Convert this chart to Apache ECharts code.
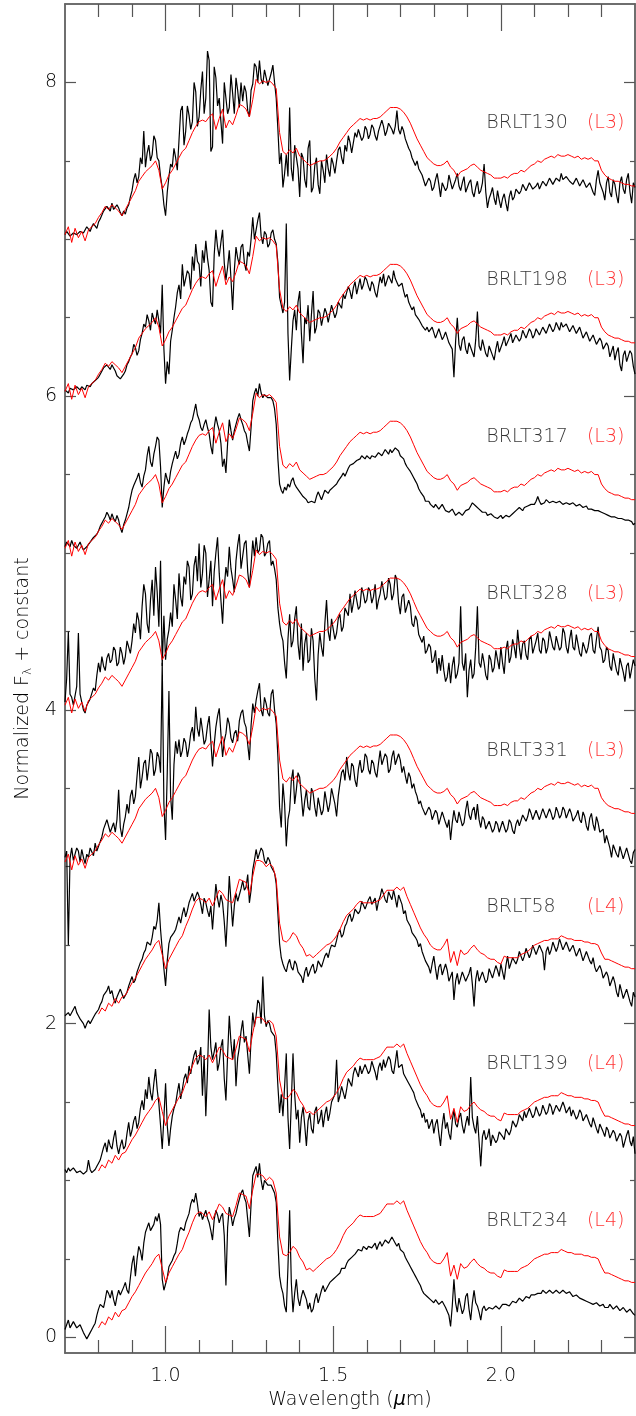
<!DOCTYPE html>
<html>
<head>
<meta charset="utf-8">
<script src="https://cdn.jsdelivr.net/npm/echarts@6/dist/echarts.min.js"></script>
<style>
  html, body { margin: 0; padding: 0; background: #fff; }
  #chart { width: 636px; height: 1416px; }
</style>
</head>
<body>
<div id="chart"></div>
<script>
// Wavelength sampling (micron): observed spectra every 0.005, standards every 0.01, from 0.70 to 2.40
const WAVE_START = 0.70;
const OBS_STEP = 0.005;
const STD_STEP = 0.01;

// Spectral standards (normalized flux), one per spectral type
const L3_TEMPLATE = [
  0.03,0.08,-0.02,0.07,0.01,0.05,-0.01,0.06,0.08,0.10,
  0.14,0.17,0.21,0.19,0.22,0.20,0.18,0.15,0.19,0.23,
  0.27,0.31,0.37,0.40,0.43,0.45,0.47,0.50,0.44,0.32,
  0.36,0.41,0.44,0.48,0.52,0.56,0.58,0.63,0.68,0.72,
  0.75,0.76,0.75,0.78,0.80,0.70,0.77,0.83,0.71,0.76,
  0.73,0.79,0.86,0.85,0.83,0.78,0.89,1.02,0.99,1.01,
  1.00,1.01,0.99,0.96,0.68,0.56,0.54,0.57,0.55,0.58,
  0.53,0.51,0.49,0.47,0.48,0.49,0.50,0.50,0.51,0.53,
  0.55,0.58,0.62,0.65,0.68,0.71,0.73,0.75,0.77,0.76,
  0.77,0.76,0.77,0.77,0.78,0.80,0.82,0.84,0.84,0.84,
  0.83,0.81,0.78,0.74,0.69,0.64,0.60,0.56,0.52,0.50,
  0.48,0.47,0.47,0.48,0.50,0.46,0.44,0.40,0.43,0.44,
  0.45,0.47,0.48,0.46,0.44,0.43,0.42,0.41,0.39,0.39,
  0.39,0.40,0.39,0.41,0.42,0.42,0.44,0.43,0.45,0.47,
  0.48,0.50,0.49,0.51,0.52,0.53,0.52,0.54,0.53,0.53,
  0.54,0.53,0.52,0.53,0.51,0.52,0.51,0.52,0.50,0.50,
  0.44,0.41,0.39,0.38,0.37,0.37,0.36,0.35,0.35,0.34,
  0.34
];
const L4_TEMPLATE = [
  null,null,null,null,null,null,null,null,null,null,
  0.06,0.10,0.08,0.13,0.11,0.16,0.13,0.17,0.18,0.22,
  0.26,0.29,0.33,0.37,0.41,0.44,0.47,0.51,0.53,0.44,
  0.35,0.41,0.45,0.49,0.53,0.56,0.62,0.67,0.73,0.78,
  0.80,0.79,0.77,0.80,0.75,0.80,0.85,0.83,0.79,0.78,
  0.77,0.84,0.92,0.91,0.90,0.82,0.94,1.04,1.04,1.03,
  1.00,1.02,1.00,0.92,0.64,0.53,0.52,0.54,0.58,0.56,
  0.51,0.48,0.43,0.44,0.42,0.44,0.46,0.48,0.50,0.51,
  0.53,0.56,0.60,0.65,0.69,0.71,0.73,0.76,0.78,0.77,
  0.77,0.77,0.77,0.78,0.79,0.82,0.85,0.85,0.85,0.87,
  0.85,0.87,0.81,0.76,0.71,0.66,0.61,0.57,0.54,0.50,
  0.48,0.47,0.47,0.50,0.54,0.39,0.46,0.37,0.47,0.44,
  0.45,0.48,0.50,0.47,0.45,0.44,0.42,0.41,0.41,0.39,
  0.38,0.43,0.42,0.42,0.42,0.42,0.44,0.45,0.46,0.48,
  0.50,0.51,0.52,0.53,0.53,0.54,0.54,0.54,0.56,0.55,
  0.54,0.54,0.53,0.53,0.53,0.52,0.52,0.51,0.51,0.50,
  0.45,0.41,0.41,0.40,0.39,0.38,0.37,0.36,0.36,0.35,
  0.35
];

// Observed spectra (normalized flux), one row per 0.1 micron
const BRLT130 = [
  0.03,0.05,0.06,0.02,0.01,0.04,0.05,0.03,0.02,0.05,0.06,0.04,0.04,0.08,0.07,0.05,0.08,0.10,0.09,0.07,
  0.11,0.13,0.14,0.18,0.17,0.21,0.20,0.18,0.23,0.19,0.18,0.22,0.20,0.17,0.15,0.18,0.16,0.20,0.22,0.27,
  0.31,0.38,0.42,0.36,0.40,0.52,0.48,0.69,0.46,0.55,0.60,0.50,0.54,0.66,0.63,0.52,0.50,0.40,0.33,0.22,
  0.15,0.30,0.40,0.48,0.46,0.58,0.52,0.44,0.63,0.82,0.85,0.60,0.69,0.85,0.79,0.70,0.75,1.00,0.94,0.72,
  0.78,0.95,1.07,0.80,0.90,1.20,1.14,0.56,0.59,1.10,1.03,0.85,0.90,0.75,0.61,1.00,0.99,0.80,0.84,1.05,
  0.93,0.80,1.03,0.95,0.84,1.00,0.88,0.98,0.94,0.82,0.78,0.95,0.99,1.12,1.10,1.00,1.14,1.02,0.99,1.08,
  1.03,0.98,0.97,1.06,1.11,1.00,0.90,0.70,0.48,0.55,0.33,0.42,0.54,0.40,0.84,0.45,0.37,0.60,0.59,0.45,
  0.27,0.55,0.52,0.38,0.33,0.58,0.63,0.30,0.33,0.47,0.52,0.35,0.29,0.50,0.44,0.36,0.54,0.45,0.40,0.52,
  0.48,0.42,0.50,0.57,0.59,0.52,0.48,0.60,0.56,0.66,0.62,0.55,0.56,0.68,0.65,0.70,0.69,0.63,0.65,0.72,
  0.70,0.64,0.67,0.73,0.71,0.66,0.63,0.69,0.70,0.76,0.72,0.66,0.69,0.74,0.75,0.70,0.67,0.72,0.82,0.70,
  0.67,0.72,0.69,0.64,0.63,0.58,0.56,0.52,0.53,0.47,0.50,0.45,0.44,0.41,0.40,0.34,0.35,0.39,0.37,0.31,
  0.33,0.38,0.42,0.35,0.27,0.36,0.37,0.31,0.33,0.41,0.40,0.32,0.33,0.38,0.42,0.34,0.31,0.36,0.40,0.30,
  0.33,0.36,0.38,0.30,0.27,0.33,0.37,0.29,0.31,0.36,0.48,0.30,0.20,0.26,0.29,0.33,0.26,0.22,0.31,0.25,
  0.20,0.26,0.29,0.23,0.18,0.27,0.31,0.25,0.27,0.32,0.33,0.29,0.31,0.35,0.36,0.31,0.32,0.36,0.35,0.32,
  0.31,0.34,0.36,0.32,0.33,0.37,0.37,0.34,0.35,0.39,0.38,0.35,0.36,0.39,0.40,0.37,0.42,0.38,0.37,0.40,
  0.41,0.37,0.38,0.35,0.36,0.39,0.38,0.34,0.35,0.38,0.37,0.33,0.32,0.36,0.35,0.30,0.28,0.38,0.44,0.36,
  0.37,0.30,0.25,0.36,0.40,0.30,0.27,0.38,0.35,0.28,0.23,0.36,0.40,0.32,0.29,0.38,0.42,0.30,0.23,0.36,
  0.33
];
const BRLT198 = [
  0.04,0.03,0.02,0.05,0.06,0.04,0.03,0.06,0.05,0.04,0.06,0.05,0.04,0.07,0.07,0.06,0.08,0.09,0.10,0.11,
  0.12,0.14,0.15,0.18,0.17,0.20,0.19,0.17,0.20,0.18,0.16,0.13,0.14,0.11,0.10,0.14,0.16,0.20,0.22,0.25,
  0.27,0.33,0.31,0.26,0.29,0.36,0.40,0.46,0.44,0.52,0.48,0.42,0.53,0.49,0.46,0.55,0.48,0.40,0.71,0.30,
  0.08,0.22,0.14,0.35,0.42,0.50,0.57,0.66,0.71,0.62,0.84,0.70,0.71,0.80,0.78,0.68,0.89,0.80,0.97,0.86,
  0.84,0.70,0.93,0.85,0.99,0.88,0.80,0.60,0.57,0.90,1.06,0.95,0.89,0.98,1.06,0.85,0.74,0.82,0.93,0.75,
  0.55,0.80,0.95,0.88,0.84,0.95,0.97,0.85,0.80,0.92,0.89,1.00,1.14,1.00,1.06,1.12,1.17,1.02,0.97,1.05,
  1.03,0.95,0.97,1.04,1.06,1.00,0.97,0.85,0.63,0.58,0.53,0.60,1.10,0.40,0.10,0.30,0.48,0.55,0.42,0.60,
  0.67,0.40,0.21,0.50,0.46,0.58,0.35,0.52,0.67,0.40,0.44,0.55,0.53,0.45,0.46,0.56,0.53,0.47,0.48,0.58,
  0.57,0.50,0.53,0.60,0.61,0.56,0.65,0.62,0.63,0.70,0.67,0.62,0.69,0.73,0.65,0.70,0.75,0.68,0.71,0.76,
  0.74,0.70,0.67,0.73,0.71,0.66,0.63,0.70,0.76,0.72,0.78,0.70,0.71,0.77,0.76,0.72,0.80,0.75,0.74,0.70,
  0.69,0.72,0.67,0.63,0.65,0.60,0.61,0.55,0.57,0.52,0.53,0.49,0.48,0.45,0.46,0.42,0.44,0.41,0.40,0.44,
  0.43,0.37,0.38,0.43,0.42,0.36,0.38,0.41,0.40,0.34,0.35,0.30,0.12,0.35,0.50,0.33,0.29,0.36,0.38,0.30,
  0.27,0.34,0.35,0.28,0.25,0.36,0.54,0.32,0.29,0.36,0.35,0.27,0.25,0.32,0.33,0.26,0.23,0.30,0.35,0.28,
  0.29,0.34,0.38,0.32,0.31,0.37,0.40,0.34,0.33,0.39,0.40,0.35,0.37,0.42,0.42,0.37,0.38,0.43,0.41,0.37,
  0.39,0.43,0.43,0.39,0.40,0.44,0.43,0.40,0.41,0.46,0.45,0.41,0.43,0.47,0.46,0.42,0.47,0.44,0.43,0.46,
  0.46,0.41,0.42,0.45,0.44,0.40,0.41,0.44,0.43,0.37,0.38,0.41,0.40,0.35,0.34,0.39,0.38,0.33,0.32,0.37,
  0.35,0.30,0.29,0.34,0.32,0.25,0.26,0.32,0.23,0.28,0.31,0.20,0.16,0.26,0.29,0.22,0.21,0.29,0.27,0.19,
  0.14
];
const BRLT317 = [
  0.04,0.07,0.06,0.04,0.08,0.05,0.06,0.03,0.05,0.07,0.04,0.02,0.02,0.04,0.05,0.07,0.08,0.10,0.11,0.12,
  0.14,0.17,0.18,0.21,0.23,0.26,0.24,0.21,0.25,0.22,0.20,0.24,0.21,0.16,0.13,0.18,0.21,0.25,0.29,0.35,
  0.40,0.43,0.44,0.48,0.51,0.45,0.42,0.49,0.53,0.62,0.68,0.58,0.55,0.63,0.68,0.74,0.72,0.55,0.29,0.42,
  0.51,0.47,0.44,0.52,0.57,0.61,0.65,0.60,0.63,0.70,0.74,0.69,0.72,0.76,0.79,0.83,0.85,0.90,0.95,0.88,
  0.85,0.80,0.78,0.82,0.85,0.80,0.76,0.68,0.63,0.80,0.87,0.82,0.78,0.70,0.55,0.60,0.51,0.70,0.85,0.78,
  0.72,0.78,0.82,0.86,0.89,0.85,0.82,0.78,0.76,0.70,0.65,0.80,0.97,1.02,1.05,1.00,1.08,1.02,0.99,1.01,
  1.01,0.99,0.98,0.99,0.97,0.92,0.82,0.60,0.44,0.40,0.38,0.42,0.40,0.44,0.42,0.46,0.48,0.44,0.42,0.41,
  0.39,0.38,0.36,0.35,0.34,0.32,0.31,0.33,0.34,0.32,0.36,0.39,0.40,0.34,0.35,0.40,0.41,0.38,0.40,0.41,
  0.42,0.43,0.44,0.46,0.47,0.49,0.51,0.49,0.50,0.54,0.56,0.55,0.57,0.58,0.59,0.58,0.60,0.62,0.61,0.60,
  0.62,0.61,0.60,0.62,0.63,0.61,0.62,0.64,0.65,0.62,0.63,0.66,0.65,0.63,0.66,0.64,0.65,0.67,0.68,0.65,
  0.62,0.61,0.60,0.57,0.55,0.54,0.52,0.50,0.48,0.46,0.44,0.41,0.39,0.38,0.36,0.33,0.32,0.33,0.31,0.30,
  0.29,0.31,0.30,0.28,0.29,0.31,0.30,0.27,0.28,0.26,0.25,0.28,0.26,0.24,0.23,0.26,0.27,0.24,0.25,0.27,
  0.27,0.28,0.30,0.32,0.33,0.30,0.29,0.28,0.27,0.26,0.25,0.26,0.24,0.23,0.25,0.24,0.23,0.22,0.22,0.23,
  0.24,0.22,0.23,0.24,0.25,0.23,0.24,0.25,0.26,0.27,0.27,0.29,0.28,0.27,0.29,0.30,0.30,0.29,0.31,0.30,
  0.31,0.33,0.36,0.33,0.31,0.32,0.32,0.34,0.33,0.32,0.32,0.33,0.33,0.32,0.32,0.33,0.32,0.31,0.31,0.32,
  0.32,0.31,0.31,0.32,0.31,0.30,0.30,0.31,0.30,0.29,0.29,0.30,0.28,0.29,0.28,0.27,0.27,0.28,0.27,0.26,
  0.26,0.25,0.25,0.24,0.24,0.25,0.23,0.22,0.23,0.22,0.22,0.23,0.22,0.21,0.21,0.22,0.21,0.20,0.20,0.18,
  0.19
];
const BRLT328 = [
  0.05,0.20,0.50,0.10,0.08,0.03,0.02,0.15,0.49,0.10,0.05,0.00,-0.02,0.03,0.04,0.07,0.08,0.14,0.12,0.22,
  0.30,0.24,0.34,0.28,0.25,0.33,0.36,0.30,0.32,0.40,0.38,0.28,0.30,0.40,0.36,0.29,0.34,0.44,0.40,0.36,
  0.44,0.55,0.49,0.62,0.57,0.45,0.66,0.80,0.74,0.55,0.49,0.70,0.83,0.60,0.91,0.75,0.53,0.95,0.28,0.60,
  0.32,0.45,0.51,0.62,0.53,0.80,0.70,0.58,0.87,0.72,0.66,0.85,0.80,0.95,0.91,0.70,0.74,0.92,0.98,0.82,
  1.06,0.78,0.87,1.05,1.00,0.72,0.83,0.95,0.66,0.88,1.00,1.10,0.87,0.70,0.55,0.78,0.91,0.85,1.04,0.90,
  0.83,0.75,0.95,1.05,1.12,0.90,0.98,1.06,1.08,0.88,0.78,0.92,1.08,0.98,1.10,1.00,1.02,1.12,1.10,0.98,
  1.00,1.06,1.08,0.92,0.95,0.90,0.83,0.65,0.55,0.48,0.44,0.30,0.20,0.45,0.61,0.40,0.44,0.58,0.66,0.42,
  0.32,0.55,0.25,0.42,0.49,0.30,0.32,0.52,0.44,0.20,0.06,0.35,0.49,0.40,0.34,0.55,0.70,0.50,0.44,0.58,
  0.59,0.45,0.49,0.58,0.61,0.50,0.53,0.65,0.66,0.60,0.74,0.62,0.68,0.76,0.70,0.64,0.66,0.78,0.74,0.68,
  0.70,0.78,0.76,0.68,0.72,0.80,0.64,0.70,0.74,0.82,0.83,0.70,0.72,0.84,0.80,0.70,0.74,0.86,0.83,0.68,
  0.61,0.72,0.74,0.62,0.61,0.70,0.66,0.55,0.53,0.60,0.57,0.48,0.49,0.43,0.47,0.36,0.38,0.42,0.40,0.30,
  0.32,0.38,0.23,0.33,0.25,0.35,0.25,0.18,0.21,0.30,0.17,0.28,0.34,0.20,0.23,0.30,0.66,0.30,0.25,0.36,
  0.08,0.25,0.32,0.20,0.23,0.40,0.66,0.30,0.27,0.36,0.30,0.22,0.19,0.35,0.32,0.24,0.27,0.38,0.32,0.26,
  0.40,0.30,0.23,0.38,0.44,0.30,0.34,0.45,0.40,0.33,0.51,0.40,0.32,0.42,0.44,0.35,0.32,0.45,0.47,0.36,
  0.36,0.44,0.49,0.38,0.36,0.46,0.44,0.36,0.40,0.50,0.49,0.40,0.38,0.47,0.47,0.38,0.40,0.52,0.49,0.40,
  0.36,0.45,0.51,0.40,0.38,0.48,0.47,0.36,0.34,0.43,0.44,0.36,0.40,0.47,0.49,0.38,0.36,0.45,0.53,0.40,
  0.38,0.30,0.32,0.40,0.38,0.28,0.25,0.36,0.36,0.25,0.22,0.33,0.34,0.24,0.18,0.28,0.30,0.20,0.20,0.32,
  0.28
];
const BRLT331 = [
  0.06,0.10,-0.50,0.05,0.12,0.04,0.05,0.12,0.10,0.03,0.11,0.06,0.02,0.08,0.06,0.12,0.11,0.07,0.15,0.10,
  0.11,0.16,0.19,0.24,0.25,0.30,0.29,0.22,0.25,0.28,0.22,0.30,0.49,0.25,0.19,0.27,0.32,0.40,0.34,0.45,
  0.49,0.40,0.45,0.58,0.70,0.50,0.57,0.66,0.68,0.55,0.64,0.75,0.72,0.58,0.62,0.73,0.70,0.60,1.30,0.40,
  0.17,0.60,1.12,0.45,0.30,0.65,0.80,0.72,0.81,0.70,0.74,0.82,0.79,0.70,0.76,0.85,0.89,0.80,1.02,0.88,
  0.83,0.95,0.87,0.78,0.81,0.90,0.96,0.80,0.64,0.78,0.89,0.96,1.01,0.85,0.70,0.80,0.85,0.95,0.91,0.82,
  0.79,0.85,0.87,0.80,0.93,0.98,1.00,0.92,0.89,0.78,0.68,0.90,1.04,0.98,1.06,1.12,1.17,1.00,0.96,1.08,
  1.04,0.98,0.96,1.10,1.13,1.00,0.91,0.70,0.38,0.25,0.53,0.40,0.13,0.30,0.36,0.55,0.62,0.40,0.49,0.60,
  0.57,0.45,0.32,0.42,0.49,0.38,0.36,0.50,0.47,0.38,0.32,0.44,0.45,0.33,0.36,0.48,0.47,0.35,0.40,0.50,
  0.49,0.40,0.32,0.45,0.53,0.60,0.62,0.55,0.70,0.60,0.55,0.66,0.64,0.55,0.51,0.62,0.68,0.60,0.62,0.72,
  0.70,0.62,0.59,0.68,0.66,0.60,0.57,0.66,0.74,0.65,0.64,0.72,0.70,0.60,0.62,0.70,0.74,0.65,0.66,0.72,
  0.68,0.60,0.64,0.58,0.53,0.60,0.57,0.50,0.53,0.48,0.45,0.40,0.42,0.38,0.38,0.33,0.32,0.38,0.36,0.30,
  0.30,0.36,0.34,0.27,0.28,0.35,0.36,0.28,0.25,0.30,0.17,0.28,0.36,0.30,0.28,0.35,0.34,0.26,0.28,0.36,
  0.42,0.33,0.30,0.36,0.38,0.30,0.40,0.30,0.25,0.32,0.30,0.24,0.23,0.29,0.28,0.22,0.24,0.29,0.27,0.22,
  0.23,0.29,0.28,0.22,0.24,0.30,0.28,0.23,0.21,0.27,0.30,0.26,0.27,0.33,0.34,0.29,0.32,0.37,0.34,0.30,
  0.31,0.36,0.36,0.30,0.31,0.37,0.36,0.31,0.32,0.37,0.34,0.30,0.32,0.38,0.35,0.31,0.33,0.38,0.36,0.31,
  0.32,0.37,0.34,0.29,0.28,0.33,0.36,0.30,0.28,0.35,0.32,0.26,0.23,0.31,0.34,0.27,0.23,0.32,0.28,0.22,
  0.21,0.24,0.15,0.20,0.19,0.12,0.06,0.14,0.15,0.08,0.06,0.13,0.13,0.05,0.06,0.12,0.11,0.04,0.02,0.09,
  0.11
];
const BRLT58 = [
  0.05,0.04,0.07,0.05,0.06,0.09,0.11,0.07,0.05,0.03,0.02,0.00,-0.03,0.00,0.02,0.00,0.01,0.04,0.06,0.07,
  0.09,0.12,0.14,0.18,0.17,0.21,0.24,0.19,0.21,0.16,0.13,0.17,0.17,0.22,0.21,0.16,0.15,0.20,0.24,0.27,
  0.30,0.26,0.28,0.33,0.34,0.39,0.41,0.45,0.47,0.52,0.53,0.50,0.55,0.62,0.60,0.66,0.77,0.60,0.47,0.35,
  0.24,0.40,0.51,0.55,0.55,0.58,0.60,0.64,0.68,0.64,0.70,0.74,0.68,0.72,0.77,0.80,0.83,0.78,0.77,0.84,
  0.81,0.76,0.70,0.80,0.77,0.72,0.68,0.75,0.60,0.75,0.89,0.80,0.74,0.82,0.77,0.65,0.49,0.70,0.94,0.78,
  0.62,0.75,0.83,0.78,0.77,0.86,0.91,0.85,0.87,0.95,0.77,0.85,0.98,1.04,1.11,1.05,1.06,1.12,1.10,1.04,
  1.02,1.06,1.04,1.00,1.00,0.96,0.89,0.70,0.51,0.42,0.38,0.35,0.33,0.38,0.41,0.36,0.34,0.40,0.38,0.33,
  0.34,0.30,0.26,0.33,0.36,0.30,0.30,0.36,0.38,0.32,0.34,0.40,0.41,0.36,0.36,0.43,0.45,0.42,0.47,0.50,
  0.51,0.49,0.53,0.58,0.60,0.55,0.57,0.62,0.64,0.68,0.70,0.65,0.68,0.73,0.74,0.70,0.72,0.78,0.79,0.73,
  0.74,0.79,0.81,0.76,0.77,0.80,0.72,0.78,0.81,0.86,0.85,0.79,0.77,0.84,0.83,0.79,0.85,0.80,0.74,0.82,
  0.81,0.76,0.70,0.72,0.66,0.64,0.62,0.58,0.57,0.55,0.53,0.49,0.51,0.46,0.45,0.40,0.41,0.36,0.32,0.38,
  0.43,0.35,0.28,0.36,0.38,0.31,0.30,0.38,0.34,0.27,0.28,0.33,0.15,0.27,0.32,0.25,0.24,0.33,0.34,0.27,
  0.26,0.32,0.36,0.25,0.11,0.28,0.34,0.27,0.26,0.33,0.34,0.26,0.28,0.35,0.36,0.29,0.30,0.37,0.34,0.30,
  0.38,0.33,0.28,0.37,0.43,0.35,0.36,0.42,0.43,0.38,0.41,0.46,0.45,0.40,0.43,0.48,0.47,0.42,0.45,0.50,
  0.49,0.44,0.45,0.50,0.51,0.45,0.34,0.46,0.49,0.44,0.47,0.52,0.51,0.46,0.49,0.54,0.53,0.47,0.47,0.52,
  0.51,0.46,0.45,0.50,0.49,0.43,0.43,0.48,0.47,0.40,0.41,0.46,0.47,0.40,0.38,0.42,0.36,0.33,0.32,0.37,
  0.34,0.29,0.28,0.33,0.30,0.24,0.24,0.30,0.26,0.20,0.17,0.25,0.24,0.16,0.15,0.22,0.21,0.14,0.11,0.20,
  0.17
];
const BRLT139 = [
  0.07,0.05,0.08,0.06,0.05,0.08,0.07,0.05,0.04,0.06,0.07,0.04,0.03,0.06,0.13,0.07,0.05,0.04,0.07,0.09,
  0.11,0.13,0.17,0.21,0.24,0.18,0.26,0.22,0.20,0.27,0.32,0.22,0.17,0.22,0.26,0.20,0.22,0.30,0.37,0.28,
  0.32,0.38,0.41,0.33,0.37,0.46,0.51,0.45,0.58,0.52,0.66,0.56,0.51,0.62,0.71,0.58,0.49,0.35,0.20,0.40,
  0.62,0.35,0.22,0.33,0.41,0.46,0.49,0.56,0.62,0.52,0.58,0.65,0.68,0.62,0.73,0.68,0.75,0.80,0.83,0.74,
  0.77,0.85,0.54,0.80,0.41,0.70,1.09,0.85,0.77,0.82,0.88,0.70,0.75,0.85,0.90,0.65,0.51,0.80,1.05,0.88,
  0.77,0.90,0.60,0.78,0.85,0.95,1.02,0.88,0.92,0.80,0.68,0.90,1.07,0.98,1.05,1.15,1.13,1.00,1.30,1.05,
  0.98,1.02,1.00,0.95,0.96,0.92,0.81,0.60,0.43,0.55,0.41,0.60,0.81,0.40,0.20,0.50,0.81,0.55,0.39,0.45,
  0.24,0.40,0.47,0.35,0.22,0.38,0.43,0.33,0.30,0.44,0.47,0.36,0.39,0.45,0.34,0.42,0.47,0.38,0.43,0.50,
  0.49,0.55,0.77,0.50,0.54,0.60,0.60,0.52,0.58,0.65,0.64,0.60,0.68,0.72,0.71,0.66,0.73,0.68,0.68,0.74,
  0.73,0.68,0.70,0.76,0.75,0.69,0.64,0.72,0.75,0.70,0.77,0.72,0.73,0.79,0.77,0.70,0.68,0.75,0.83,0.72,
  0.71,0.74,0.68,0.66,0.66,0.62,0.60,0.58,0.56,0.52,0.51,0.47,0.45,0.40,0.43,0.37,0.39,0.33,0.34,0.39,
  0.30,0.36,0.39,0.30,0.22,0.35,0.43,0.33,0.37,0.30,0.26,0.38,0.45,0.36,0.34,0.40,0.43,0.35,0.30,0.36,
  0.41,0.35,0.66,0.40,0.34,0.30,0.41,0.25,0.09,0.28,0.32,0.26,0.28,0.33,0.22,0.29,0.30,0.24,0.26,0.31,
  0.32,0.28,0.26,0.33,0.34,0.29,0.32,0.38,0.39,0.34,0.37,0.42,0.41,0.38,0.44,0.40,0.41,0.46,0.45,0.40,
  0.42,0.47,0.46,0.41,0.43,0.48,0.47,0.42,0.44,0.49,0.47,0.42,0.43,0.48,0.49,0.44,0.45,0.50,0.47,0.43,
  0.43,0.47,0.41,0.45,0.44,0.39,0.41,0.45,0.43,0.38,0.37,0.42,0.41,0.36,0.34,0.40,0.39,0.33,0.30,0.36,
  0.37,0.31,0.28,0.34,0.32,0.27,0.26,0.32,0.30,0.25,0.24,0.30,0.28,0.21,0.22,0.29,0.32,0.25,0.22,0.28,
  0.17
];
const BRLT234 = [
  0.05,0.08,0.11,0.06,0.07,0.10,0.09,0.06,0.05,0.08,0.07,0.03,0.01,-0.01,0.00,0.03,0.05,0.07,0.09,0.14,
  0.18,0.21,0.22,0.19,0.24,0.30,0.28,0.25,0.30,0.24,0.20,0.26,0.30,0.27,0.26,0.32,0.35,0.30,0.28,0.38,
  0.47,0.52,0.39,0.50,0.58,0.55,0.49,0.60,0.67,0.70,0.73,0.68,0.67,0.72,0.77,0.74,0.79,0.72,0.37,0.30,
  0.30,0.38,0.45,0.47,0.49,0.52,0.54,0.60,0.67,0.70,0.71,0.68,0.73,0.76,0.79,0.85,0.88,0.86,0.92,0.85,
  0.77,0.80,0.75,0.78,0.81,0.76,0.73,0.68,0.62,0.75,0.81,0.78,0.73,0.77,0.79,0.65,0.33,0.70,0.83,0.78,
  0.71,0.76,0.79,0.84,0.88,0.92,0.94,0.89,0.86,0.75,0.64,0.85,1.03,1.06,1.09,1.02,1.11,1.00,0.94,1.00,
  1.00,0.97,0.98,0.97,0.96,0.92,0.86,0.60,0.39,0.32,0.28,0.20,0.16,0.45,0.81,0.35,0.16,0.28,0.37,0.25,
  0.20,0.26,0.30,0.27,0.24,0.18,0.22,0.16,0.18,0.24,0.28,0.22,0.26,0.30,0.33,0.29,0.28,0.33,0.35,0.34,
  0.37,0.36,0.39,0.40,0.41,0.44,0.45,0.44,0.47,0.49,0.49,0.51,0.52,0.53,0.54,0.56,0.56,0.55,0.58,0.57,
  0.56,0.58,0.59,0.57,0.58,0.60,0.56,0.59,0.61,0.58,0.60,0.62,0.63,0.60,0.60,0.64,0.65,0.60,0.58,0.60,
  0.56,0.55,0.54,0.51,0.49,0.47,0.45,0.43,0.41,0.39,0.37,0.35,0.33,0.30,0.28,0.27,0.26,0.25,0.24,0.23,
  0.22,0.24,0.24,0.21,0.20,0.23,0.22,0.19,0.20,0.14,0.07,0.20,0.37,0.22,0.16,0.25,0.24,0.15,0.18,0.26,
  0.28,0.18,0.11,0.22,0.30,0.22,0.20,0.16,0.11,0.18,0.20,0.17,0.16,0.19,0.20,0.18,0.18,0.20,0.20,0.18,
  0.19,0.21,0.20,0.21,0.22,0.20,0.21,0.23,0.24,0.22,0.23,0.25,0.25,0.23,0.24,0.26,0.26,0.25,0.27,0.26,
  0.27,0.28,0.28,0.27,0.28,0.30,0.29,0.28,0.28,0.30,0.29,0.28,0.28,0.30,0.29,0.28,0.28,0.30,0.29,0.28,
  0.27,0.29,0.28,0.26,0.26,0.27,0.26,0.25,0.25,0.24,0.24,0.23,0.23,0.22,0.22,0.21,0.21,0.22,0.21,0.20,
  0.20,0.21,0.19,0.18,0.19,0.21,0.20,0.18,0.18,0.20,0.19,0.17,0.17,0.19,0.18,0.16,0.16,0.18,0.17,0.15,
  0.14
];

// Object names, spectral types and vertical offsets (top to bottom)
const NAMES = ['BRLT130', 'BRLT198', 'BRLT317', 'BRLT328', 'BRLT331', 'BRLT58', 'BRLT139', 'BRLT234'];
const SPEC_TYPES = ['L3', 'L3', 'L3', 'L3', 'L3', 'L4', 'L4', 'L4'];
const OFFSETS = [7, 6, 5, 4, 3, 2, 1, 0];
const FLUXES = [BRLT130, BRLT198, BRLT317, BRLT328, BRLT331, BRLT58, BRLT139, BRLT234];
const TEMPLATES = { L3: L3_TEMPLATE, L4: L4_TEMPLATE };

// Axis ticks
const X_MAJOR = [1.0, 1.5, 2.0];
const X_MINOR = [0.8, 0.9, 1.1, 1.2, 1.3, 1.4, 1.6, 1.7, 1.8, 1.9, 2.1, 2.2, 2.3];
const Y_MAJOR = [0, 2, 4, 6, 8];
const Y_MINOR = [0.5, 1, 1.5, 2.5, 3, 3.5, 4.5, 5, 5.5, 6.5, 7, 7.5];

// ---------------------------------------------------------------------------
const X_MIN = 0.7, X_MAX = 2.4, Y_MIN = -0.1, Y_MAX = 8.5;
const FONT = 'DejaVu Sans';
const TEXT = { fontFamily: FONT, fontWeight: 200, fontSize: 19, color: '#000' };
const FRAME = { color: '#666', width: 1.5 };
const TICK = { color: '#555', width: 1.2 };
const NAME_LAMBDA = 1.955;   // left edge of the object names
const TYPE_LAMBDA = 2.255;   // left edge of the spectral types
const LABEL_RISE = 0.74;     // label height above each offset

function xAxisDef(position, ticks, len, withLabels) {
  const ax = {
    type: 'value', min: X_MIN, max: X_MAX, position: position,
    axisLine: { show: true, onZero: false, lineStyle: FRAME },
    axisTick: { show: true, inside: true, length: len, customValues: ticks, lineStyle: TICK },
    axisLabel: { show: withLabels, customValues: ticks, margin: 14,
                 formatter: v => v.toFixed(1), ...TEXT },
    splitLine: { show: false }
  };
  if (withLabels) {
    ax.name = 'Wavelength ({mu|μ}m)';
    ax.nameLocation = 'middle';
    ax.nameGap = 38;
    ax.nameTextStyle = { ...TEXT, rich: { mu: { ...TEXT, fontStyle: 'italic' } } };
  }
  return ax;
}

function yAxisDef(position, ticks, len, withLabels) {
  const ax = {
    type: 'value', min: Y_MIN, max: Y_MAX, position: position,
    axisLine: { show: true, onZero: false, lineStyle: FRAME },
    axisTick: { show: true, inside: true, length: len, customValues: ticks, lineStyle: TICK },
    axisLabel: { show: withLabels, customValues: ticks, margin: 8,
                 formatter: v => String(v), ...TEXT },
    splitLine: { show: false }
  };
  if (withLabels) {
    ax.name = '{a|Normalized F}{b|λ}{a| + constant}';
    ax.nameLocation = 'middle';
    ax.nameRotate = 90;
    ax.nameGap = 29;
    ax.nameTextStyle = {
      ...TEXT,
      rich: {
        a: { ...TEXT, lineHeight: 20, verticalAlign: 'top' },
        b: { ...TEXT, fontSize: 12, lineHeight: 12, padding: [14, 0, 0, 0], verticalAlign: 'bottom' }
      }
    };
  }
  return ax;
}

function spectrumSeries(values, step, offset, color, width) {
  const pts = [];
  values.forEach((v, i) => {
    if (v !== null) pts.push([+(WAVE_START + step * i).toFixed(3), v + offset]);
  });
  return {
    type: 'line', xAxisIndex: 0, yAxisIndex: 0, data: pts,
    showSymbol: false, symbol: 'none', silent: true,
    lineStyle: { color: color, width: width },
    clip: true
  };
}

const series = [];
FLUXES.forEach((flux, k) => series.push(spectrumSeries(flux, OBS_STEP, OFFSETS[k], '#000', 1.2)));
SPEC_TYPES.forEach((t, k) => series.push(spectrumSeries(TEMPLATES[t], STD_STEP, OFFSETS[k], '#ff0000', 1)));

function labelSeries(lambda, texts, color) {
  return {
    type: 'scatter', xAxisIndex: 0, yAxisIndex: 0, silent: true,
    symbolSize: 1, itemStyle: { color: 'rgba(0,0,0,0)' },
    data: texts.map((t, k) => ({ value: [lambda, OFFSETS[k] + LABEL_RISE], name: t })),
    label: { show: true, position: 'right', distance: 0, formatter: p => p.name,
             ...TEXT, color: color }
  };
}
series.push(labelSeries(NAME_LAMBDA, NAMES, '#000'));
series.push(labelSeries(TYPE_LAMBDA, SPEC_TYPES.map(t => '(' + t + ')'), '#ff0000'));

const chart = echarts.init(document.getElementById('chart'), null, { renderer: 'canvas' });
chart.setOption({
  animation: false,
  backgroundColor: '#fff',
  grid: { left: 62, right: 1, top: 4, bottom: 63, containLabel: false },
  xAxis: [
    xAxisDef('bottom', X_MAJOR, 27, true),
    xAxisDef('bottom', X_MINOR, 13, false),
    xAxisDef('top', X_MAJOR, 27, false),
    xAxisDef('top', X_MINOR, 13, false)
  ],
  yAxis: [
    yAxisDef('left', Y_MAJOR, 11, true),
    yAxisDef('left', Y_MINOR, 5, false),
    yAxisDef('right', Y_MAJOR, 11, false),
    yAxisDef('right', Y_MINOR, 5, false)
  ],
  series: series
});
</script>
</body>
</html>
